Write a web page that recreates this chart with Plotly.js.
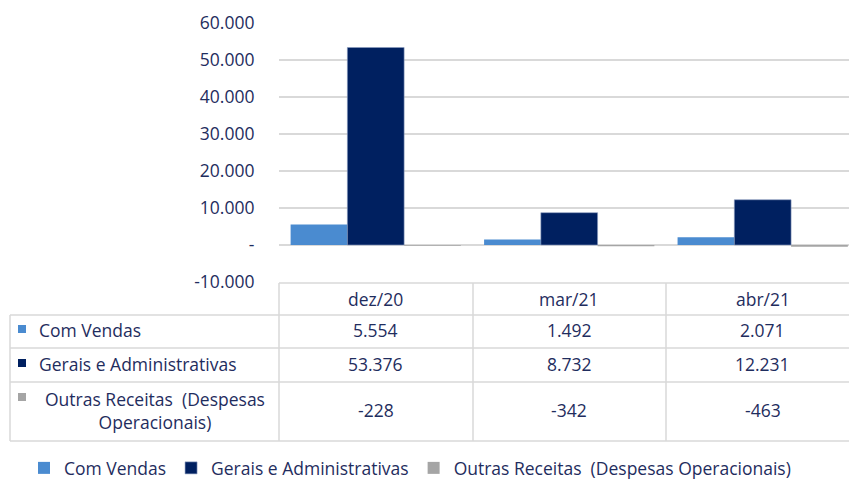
<!DOCTYPE html>
<html>
<head>
<meta charset="utf-8">
<script src="https://cdn.plot.ly/plotly-3.0.1.min.js"></script>
<style>html,body{margin:0;padding:0;background:#fff;}#chart{width:849px;height:480px;}</style>
</head>
<body>
<div id="chart"></div>
<script>
const categories = ['dez/20', 'mar/21', 'abr/21'];
const seriesNames = ['Com Vendas', 'Gerais e Administrativas', 'Outras Receitas  (Despesas Operacionais)'];
const tableLabels = ['Com Vendas', 'Gerais e Administrativas', 'Outras Receitas  (Despesas<br>Operacionais)'];
const comVendas = [5554, 1492, 2071];
const geraisAdm = [53376, 8732, 12231];
const outrasReceitas = [-228, -342, -463];
const yTickValues = [-10000, 0, 10000, 20000, 30000, 40000, 50000, 60000];
const seriesColors = ['#4a8bd0', '#002060', '#a5a5a5'];

const allSeries = [comVendas, geraisAdm, outrasReceitas];
const W = 849, H = 480;
const px = v => v / W;
const py = v => 1 - v / H;
const textColor = '#1f2d5e';
const fontFam = '"Open Sans", Lato, sans-serif';
const FS = 17.5;

function fmt(v) {
  if (v === 0) return '-';
  const s = Math.abs(v).toString().replace(/\B(?=(\d{3})+(?!\d))/g, '.');
  return (v < 0 ? '-' : '') + s;
}

const traces = allSeries.map((vals, i) => ({
  type: 'bar',
  name: seriesNames[i],
  x: categories,
  y: vals,
  marker: {color: seriesColors[i], line: {width: i === 1 ? 0.6 : 0, color: '#8c9cc0'}},
  hoverinfo: 'none'
}));

const gridC = '#d9d9d9';
const shapes = [];
function hline(y, x0, x1) {
  shapes.push({type: 'line', xref: 'paper', yref: 'paper', x0: px(x0), x1: px(x1), y0: py(y), y1: py(y), line: {color: gridC, width: 1.5}});
}
function vline(x, y0, y1) {
  shapes.push({type: 'line', xref: 'paper', yref: 'paper', x0: px(x), x1: px(x), y0: py(y0), y1: py(y1), line: {color: gridC, width: 1.5}});
}
hline(283, 279, 849);
hline(315, 10, 849);
hline(348, 10, 849);
hline(382, 10, 849);
hline(441, 10, 849);
vline(10, 315, 441);
vline(279, 283, 441);
vline(473, 283, 441);
vline(666, 283, 441);

const rowY = [330, 364, 410];
const annotations = [];
categories.forEach((c, j) => {
  annotations.push({xref: 'x', yref: 'paper', x: j, y: py(299), text: c, showarrow: false,
    font: {size: FS, color: textColor, family: fontFam}, xanchor: 'center', yanchor: 'middle'});
});
allSeries.forEach((vals, i) => {
  const keyY = (i === 2 ? 397 : rowY[i] - 1);
  shapes.push({type: 'rect', xref: 'paper', yref: 'paper', x0: px(18), x1: px(26),
    y0: py(keyY + 4), y1: py(keyY - 4),
    fillcolor: seriesColors[i], line: {width: 0}});
  if (i < 2) {
    annotations.push({xref: 'paper', yref: 'paper', x: px(37), y: py(rowY[i]), text: tableLabels[i], showarrow: false,
      font: {size: FS, color: textColor, family: fontFam}, xanchor: 'left', yanchor: 'middle'});
  } else {
    annotations.push({xref: 'paper', yref: 'paper', x: px(155), y: py(rowY[i]), text: tableLabels[i], showarrow: false,
      align: 'center', font: {size: FS, color: textColor, family: fontFam}, xanchor: 'center', yanchor: 'middle'});
  }
  vals.forEach((v, j) => {
    annotations.push({xref: 'x', yref: 'paper', x: j, y: py(rowY[i]), text: fmt(v), showarrow: false,
      font: {size: FS, color: textColor, family: fontFam}, xanchor: 'center', yanchor: 'middle'});
  });
});

const layout = {
  width: W, height: H,
  margin: {l: 0, r: 0, t: 0, b: 0, autoexpand: false},
  paper_bgcolor: '#ffffff', plot_bgcolor: '#ffffff',
  barmode: 'group', bargap: 0.12, bargroupgap: 0,
  showlegend: true,
  legend: {orientation: 'h', x: px(24), xanchor: 'left', y: py(468), yanchor: 'middle',
    font: {size: FS, color: textColor, family: fontFam}, traceorder: 'normal', itemclick: false},
  xaxis: {domain: [px(279), 1], range: [-0.5, 2.446], showticklabels: false, showgrid: false, zeroline: false, showline: false, ticks: '', automargin: false},
  yaxis: {domain: [py(282), py(23)], range: [-10000, 60000], tickvals: yTickValues, ticktext: yTickValues.map(fmt),
    tickfont: {size: FS, color: textColor, family: fontFam}, gridcolor: gridC, gridwidth: 1.5,
    zeroline: true, zerolinecolor: gridC, zerolinewidth: 1.5, showline: false, automargin: false,
    ticks: 'outside', ticklen: 20, tickcolor: 'rgba(0,0,0,0)'},
  shapes: shapes,
  annotations: annotations,
  font: {family: fontFam, color: textColor}
};

Plotly.newPlot('chart', traces, layout, {displayModeBar: false, staticPlot: true});
</script>
</body>
</html>
